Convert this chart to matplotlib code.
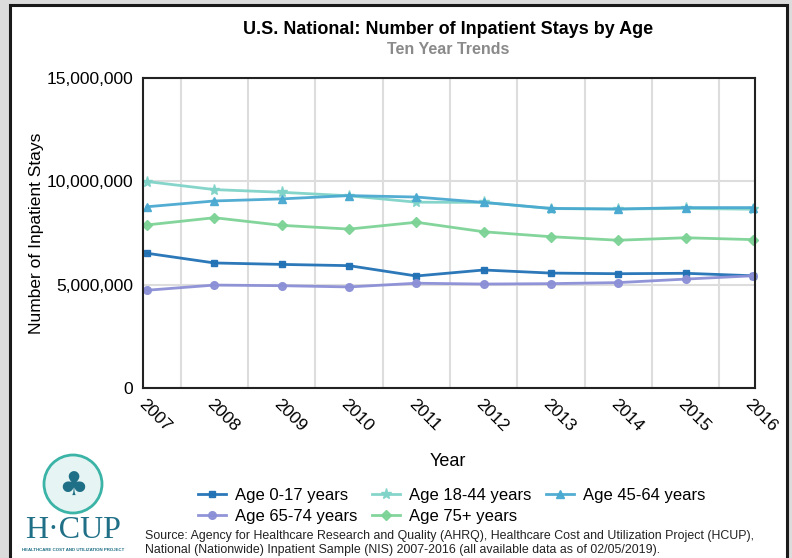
import matplotlib.pyplot as plt
import matplotlib.ticker as mticker
from matplotlib.patches import Rectangle, Circle

plt.rcParams['font.family'] = ['Liberation Sans', 'DejaVu Sans']

years = [2007, 2008, 2009, 2010, 2011, 2012, 2013, 2014, 2015, 2016]

age_0_17 = [6520000, 6050000, 5980000, 5920000, 5420000, 5710000, 5560000, 5530000, 5550000, 5430000]
age_18_44 = [9990000, 9600000, 9470000, 9300000, 8990000, 8980000, 8680000, 8660000, 8690000, 8650000]
age_45_64 = [8770000, 9050000, 9150000, 9310000, 9240000, 8980000, 8690000, 8660000, 8730000, 8730000]
age_65_74 = [4730000, 4980000, 4950000, 4890000, 5070000, 5030000, 5050000, 5100000, 5270000, 5430000]
age_75_plus = [7890000, 8240000, 7870000, 7690000, 8020000, 7560000, 7320000, 7150000, 7270000, 7180000]

W, H = 792, 558
fig = plt.figure(figsize=(W / 100, H / 100), dpi=100)
fig.patch.set_facecolor('#dcdcdc')

# white panel with black frame
fig.patches.append(Rectangle((10 / W, -0.01), 777 / W, 1 - 5 / H + 0.01, transform=fig.transFigure,
                             facecolor='white', edgecolor='#1a1a1a', linewidth=2.2, zorder=-5))

ax = fig.add_axes([143 / W, (H - 388) / H, (755 - 143) / W, (388 - 78) / H])

series = [
    ('Age 0-17 years', age_0_17, '#2171b5', 's', 5),
    ('Age 18-44 years', age_18_44, '#80d3c8', '*', 8),
    ('Age 45-64 years', age_45_64, '#4aa9d1', '^', 6),
    ('Age 65-74 years', age_65_74, '#8b8fd6', 'o', 5.5),
    ('Age 75+ years', age_75_plus, '#7dd396', 'D', 5),
]
handles = {}
for name, vals, col, mk, ms in series:
    h, = ax.plot(years, vals, color=col, marker=mk, markersize=ms, linewidth=2, alpha=0.95,
                 label=name, clip_on=False)
    handles[name] = h

ax.set_xlim(2006.94, 2016.03)
ax.set_ylim(0, 15000000)
ax.set_yticks([0, 5000000, 10000000, 15000000])
ax.yaxis.set_major_formatter(mticker.FuncFormatter(lambda v, p: f'{int(v):,}'))
ax.set_xticks(years)
ax.set_xticks([y + 0.5 for y in years[:-1]], minor=True)
ax.grid(True, axis='x', which='minor', color='#dddddd', linewidth=1.5)
ax.grid(True, axis='y', which='major', color='#dddddd', linewidth=1.5)
ax.set_axisbelow(True)
ax.tick_params(axis='both', which='both', length=0)
ax.tick_params(axis='y', labelsize=12.5, pad=7)
ax.tick_params(axis='x', labelsize=12.5, pad=6)
for lab in ax.get_xticklabels():
    lab.set_rotation(-45)
    lab.set_ha('left')
    lab.set_va('top')
    lab.set_rotation_mode('anchor')
for s in ax.spines.values():
    s.set_color('#222222')
    s.set_linewidth(1.5)

ax.set_ylabel('Number of Inpatient Stays', fontsize=12.5, labelpad=2)
fig.text(448 / W, 1 - 462 / H, 'Year', fontsize=13, ha='center', va='center')

fig.text(448 / W, 1 - 30 / H, 'U.S. National: Number of Inpatient Stays by Age',
         fontsize=13, fontweight='bold', ha='center', va='center')
fig.text(448 / W, 1 - 50 / H, 'Ten Year Trends', fontsize=11.5, fontweight='bold',
         color='#8a8a8a', ha='center', va='center')

order = ['Age 0-17 years', 'Age 65-74 years', 'Age 18-44 years', 'Age 75+ years', 'Age 45-64 years']
fig.legend([handles[n] for n in order], order, ncol=3, loc='upper left',
           bbox_to_anchor=(198 / W, 1 - 488 / H), frameon=False, fontsize=12,
           handlelength=1.7, handletextpad=0.5, columnspacing=0.9,
           labelspacing=0.35, borderaxespad=0, borderpad=0)

fig.text(145 / W, 1 - 536 / H,
         'Source: Agency for Healthcare Research and Quality (AHRQ), Healthcare Cost and Utilization Project (HCUP),',
         fontsize=8.95, color='#222222', ha='left', va='center')
fig.text(145 / W, 1 - 550 / H,
         'National (Nationwide) Inpatient Sample (NIS) 2007-2016 (all available data as of 02/05/2019).',
         fontsize=8.95, color='#222222', ha='left', va='center')

# HCUP logo (rough)
lax = fig.add_axes([13 / W, 0, 120 / W, 105 / H])
lax.set_xlim(0, 120)
lax.set_ylim(0, 105)
lax.set_aspect('equal')
lax.axis('off')
lax.add_patch(Circle((60, 74), 29, facecolor='#e6f5f3', edgecolor='#3bb3a6', linewidth=2))
lax.text(60, 72, '♣', fontsize=24, color='#1f6f86', ha='center', va='center', family=['DejaVu Sans'])
lax.text(60, 28, 'H·CUP', fontsize=23, family=['Liberation Serif', 'DejaVu Serif'],
         color='#1f6f86', ha='center', va='center')
lax.text(60, 8, 'HEALTHCARE COST AND UTILIZATION PROJECT', fontsize=3.2,
         fontweight='bold', color='#1f6f86', ha='center', va='center')

fig.savefig('out.png', dpi=100, facecolor=fig.get_facecolor())
